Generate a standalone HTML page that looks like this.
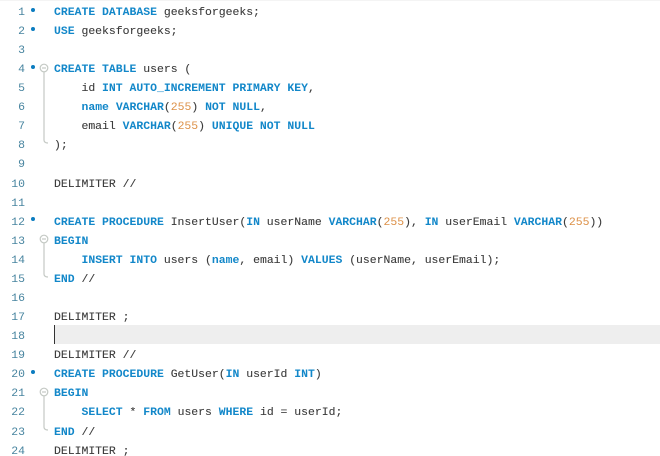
<!DOCTYPE html>
<html><head><meta charset="utf-8">
<style>
html,body{margin:0;padding:0;background:#fff}
#p{position:relative;width:660px;height:456px;overflow:hidden;background:#fff;font-family:"Liberation Mono",monospace;font-size:11.45px;color:#3a3a3a;filter:blur(.25px)}
.l{position:absolute;left:54px;margin-top:2px;height:19px;line-height:19px;white-space:pre;-webkit-text-stroke:.1px #3a3a3a}
.n{position:absolute;left:0;margin-top:2px;width:25px;height:19px;line-height:19px;text-align:right;color:#47849f;font-size:11.45px}
b{color:#1287c9;font-weight:bold;-webkit-text-stroke:0}
i{color:#dc8f45;font-style:normal;-webkit-text-stroke:0}
svg{position:absolute;left:0;top:0}
</style></head><body><div id="p">
<div style="position:absolute;left:0;top:0;width:660px;height:1px;background:#f4f4f4"></div>
<div style="position:absolute;left:55px;top:325px;width:605px;height:19px;background:#eeeeee"></div>
<div style="position:absolute;left:54px;top:325px;width:1.4px;height:19px;background:#333"></div>
<svg width="660" height="456" fill="none">
<g fill="#0b7cc0"><circle cx="33" cy="10" r="2"/><circle cx="33" cy="29" r="2"/><circle cx="33" cy="67" r="2"/><circle cx="33" cy="219" r="2"/><circle cx="33" cy="372" r="2"/></g>
<g stroke="#c4c9c4" stroke-width="1.2"><circle cx="44" cy="68" r="3.8" fill="#fff"/><path d="M42 68h4"/><path d="M44 72V140q0 3 4 3"/>
<circle cx="44" cy="239" r="3.8" fill="#fff"/><path d="M42 239h4"/><path d="M44 243V274q0 3 4 3"/>
<circle cx="44" cy="392" r="3.8" fill="#fff"/><path d="M42 392h4"/><path d="M44 396V427q0 3 4 3"/></g>
</svg>
<div class="n" style="top:1px">1</div><div class="l" style="top:1px"><b>CREATE DATABASE</b> geeksforgeeks;</div>
<div class="n" style="top:20px">2</div><div class="l" style="top:20px"><b>USE</b> geeksforgeeks;</div>
<div class="n" style="top:39px">3</div>
<div class="n" style="top:58px">4</div><div class="l" style="top:58px"><b>CREATE TABLE</b> users (</div>
<div class="n" style="top:77px">5</div><div class="l" style="top:77px">    id <b>INT AUTO_INCREMENT PRIMARY KEY</b>,</div>
<div class="n" style="top:96px">6</div><div class="l" style="top:96px">    <b>name</b> <b>VARCHAR</b>(<i>255</i>) <b>NOT NULL</b>,</div>
<div class="n" style="top:115px">7</div><div class="l" style="top:115px">    email <b>VARCHAR</b>(<i>255</i>) <b>UNIQUE NOT NULL</b></div>
<div class="n" style="top:134px">8</div><div class="l" style="top:134px">);</div>
<div class="n" style="top:153px">9</div>
<div class="n" style="top:173px">10</div><div class="l" style="top:173px">DELIMITER //</div>
<div class="n" style="top:192px">11</div>
<div class="n" style="top:211px">12</div><div class="l" style="top:211px"><b>CREATE PROCEDURE</b> InsertUser(<b>IN</b> userName <b>VARCHAR</b>(<i>255</i>), <b>IN</b> userEmail <b>VARCHAR</b>(<i>255</i>))</div>
<div class="n" style="top:230px">13</div><div class="l" style="top:230px"><b>BEGIN</b></div>
<div class="n" style="top:249px">14</div><div class="l" style="top:249px">    <b>INSERT INTO</b> users (<b>name</b>, email) <b>VALUES</b> (userName, userEmail);</div>
<div class="n" style="top:268px">15</div><div class="l" style="top:268px"><b>END</b> //</div>
<div class="n" style="top:287px">16</div>
<div class="n" style="top:306px">17</div><div class="l" style="top:306px">DELIMITER ;</div>
<div class="n" style="top:325px">18</div>
<div class="n" style="top:344px">19</div><div class="l" style="top:344px">DELIMITER //</div>
<div class="n" style="top:363px">20</div><div class="l" style="top:363px"><b>CREATE PROCEDURE</b> GetUser(<b>IN</b> userId <b>INT</b>)</div>
<div class="n" style="top:382px">21</div><div class="l" style="top:382px"><b>BEGIN</b></div>
<div class="n" style="top:401px">22</div><div class="l" style="top:401px">    <b>SELECT</b> * <b>FROM</b> users <b>WHERE</b> id = userId;</div>
<div class="n" style="top:421px">23</div><div class="l" style="top:421px"><b>END</b> //</div>
<div class="n" style="top:440px">24</div><div class="l" style="top:440px">DELIMITER ;</div>
</div></body></html>
